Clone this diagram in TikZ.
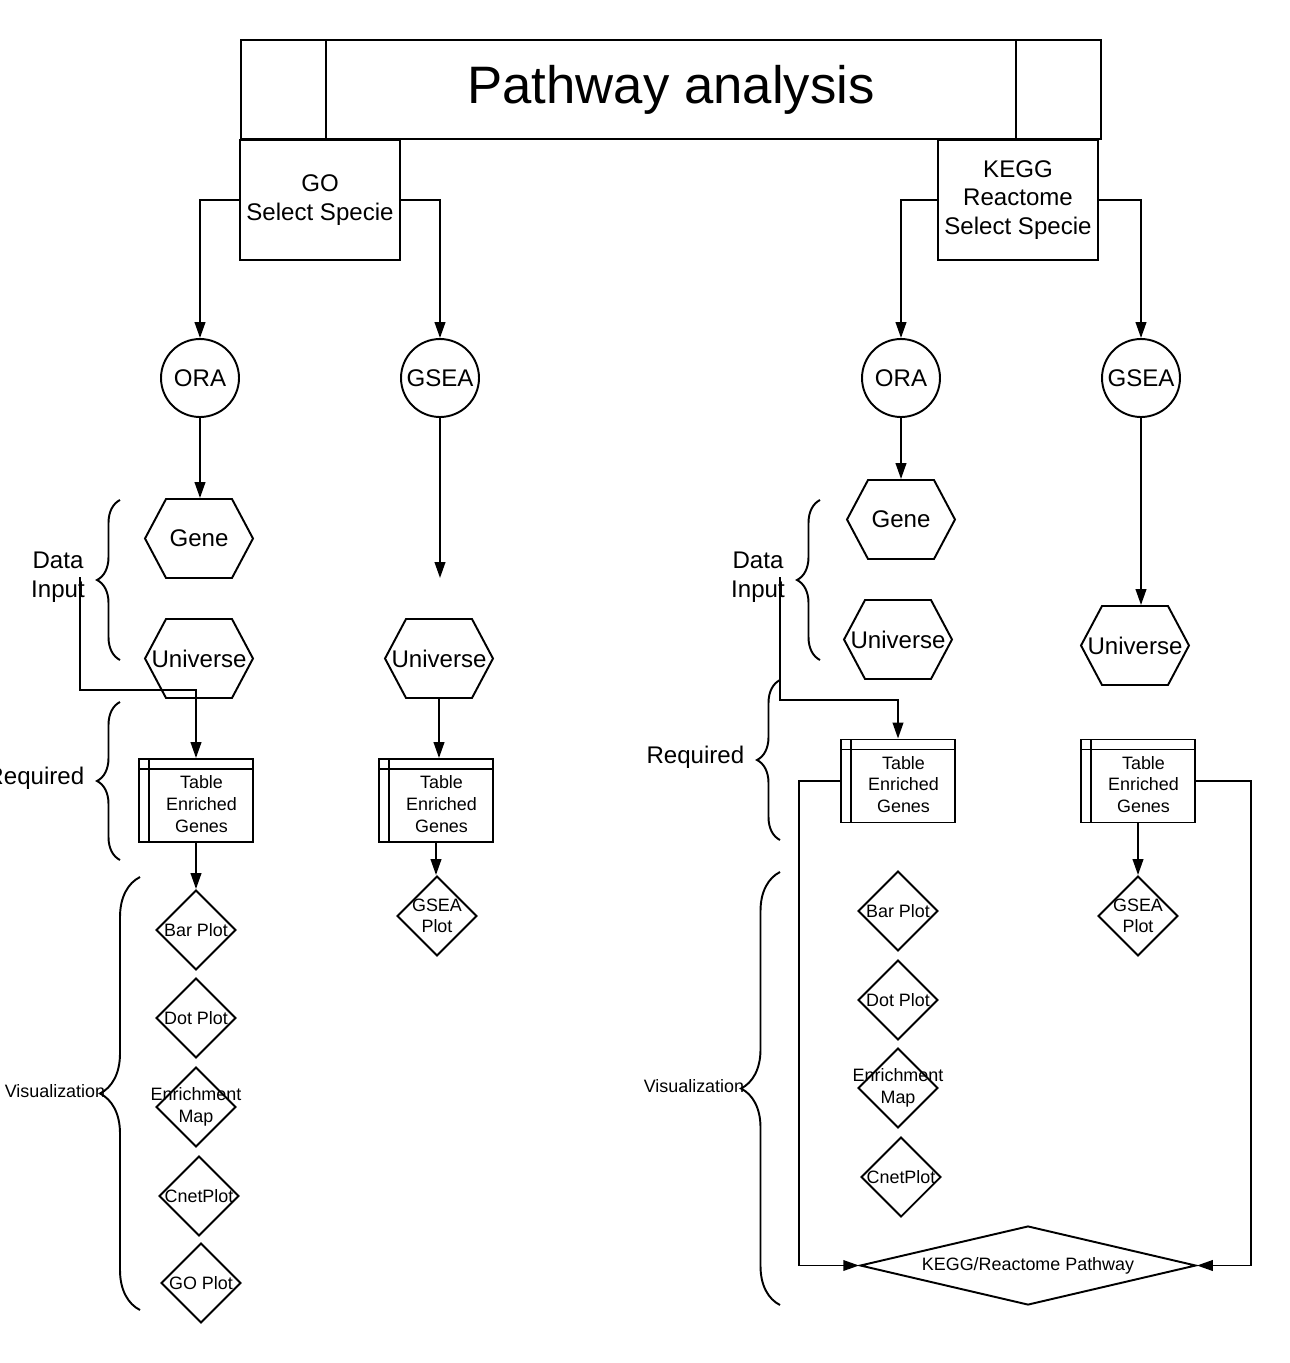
\documentclass[tikz,border=0pt]{standalone}
\usepackage{fontspec}
\setmainfont{Liberation Sans}
\usetikzlibrary{arrows.meta, positioning, shapes.geometric, shapes.symbols, decorations.pathreplacing}

\begin{document}
\begin{tikzpicture}[x=0.02cm, y=-0.02cm, line width=1.1pt,
  every node/.style={font=\fontsize{13.7}{16.4}\selectfont, align=center},
  small/.style={font=\fontsize{10.2}{12.3}\selectfont},
  box/.style={draw, rectangle, minimum width=3.2cm, minimum height=2.4cm, inner sep=0pt},
  method/.style={draw, circle, minimum size=1.56cm, inner sep=0pt},
  hexa/.style={draw, signal, signal to=west and east, signal pointer angle=124, minimum width=2.16cm, minimum height=1.58cm, inner sep=0pt},
  tablebox/.style={draw, rectangle, minimum width=2.28cm, minimum height=1.66cm, inner sep=0pt,
    path picture={
      \draw ([xshift=0.2cm]path picture bounding box.north west) -- ([xshift=0.2cm]path picture bounding box.south west);
      \draw ([yshift=-0.2cm]path picture bounding box.north west) -- ([yshift=-0.2cm]path picture bounding box.north east);}},
  plotnode/.style={draw, diamond, minimum width=1.6cm, minimum height=1.6cm, inner sep=0pt},
  arr/.style={-{Triangle[length=9pt, width=6pt]}},
  curly/.style={decorate, decoration={brace, amplitude=#1}},
]
\useasboundingbox (0,0) rectangle (1290,1363);

% Title
\node[draw, minimum width=17.2cm, minimum height=1.98cm, inner sep=0pt, font=\fontsize{30}{36}\selectfont] (title) at (671,89.5) {Pathway analysis};
\draw ([xshift=1.72cm]title.north west) -- ([xshift=1.72cm]title.south west);
\draw ([xshift=-1.72cm]title.north east) -- ([xshift=-1.72cm]title.south east);

\node[box] (go) at (320,200) {GO\\Select Specie};
\node[box] (kegg) at (1018,200) {KEGG\\Reactome\\Select Specie};

% GO branch
\node[method] (ora1) at (200,378) {ORA};
\node[method] (gsea1) at (440,378) {GSEA};
\node[hexa, label={center:Gene}] (gene1) at (199,538.5) {};
\node[hexa, label={center:Universe}] (uni1) at (199,658.5) {};
\node[hexa, label={center:Universe}] (uni2) at (439,658.5) {};
\node[tablebox, label={[small, xshift=0.11cm, yshift=-0.07cm]center:Table\\Enriched\\Genes}] (tab1) at (196,800.5) {};
\node[tablebox, label={[small, xshift=0.11cm, yshift=-0.07cm]center:Table\\Enriched\\Genes}] (tab2) at (436,800.5) {};

\node[plotnode, label={[small]center:Bar Plot}] (bar1) at (196,930) {};
\node[plotnode, label={[small]center:Dot Plot}] (dot1) at (196,1018) {};
\node[plotnode, label={[small]center:Enrichment\\Map}] (emap1) at (196,1107) {};
\node[plotnode, label={[small]center:CnetPlot}] (cnet1) at (199,1196) {};
\node[plotnode, label={[small]center:GO Plot}] (goplot) at (201,1283) {};
\node[plotnode, label={[small]center:GSEA\\Plot}] (gplot1) at (437,916) {};

\node (din1) at (58,577) {Data\\Input};
\node[anchor=east] (req1) at (91,778) {Required};
\node[small, anchor=west] (vis1) at (-2,1091) {Visualization};
\draw[curly=0.46cm] (120,660) -- (120,500);
\draw[curly=0.46cm] (120,860) -- (120,702);
\draw[curly=0.8cm] (140,1310) -- (140,877);

\coordinate (dstart1) at (80,577);
\coordinate (gseaend1) at (440,578);
\draw[arr] (go.west) -| (ora1.north);
\draw[arr] (go.east) -| (gsea1.north);
\draw[arr] (ora1.south) -- (ora1.south |- gene1.north);
\draw[arr] (gsea1.south) -- (gseaend1);
\draw[arr] (uni2.south) -- (uni2.south |- tab2.north);
\draw[arr] (dstart1) -- ++(0,113) -| (tab1.north);
\draw[arr] (tab1.south) -- (bar1.north);
\draw[arr] (tab2.south) -- (tab2.south |- gplot1.north);

% KEGG / Reactome branch
\node[method] (ora2) at (901,378) {ORA};
\node[method] (gsea2) at (1141,378) {GSEA};
\node[hexa, label={center:Gene}] (gene2) at (901,519.5) {};
\node[hexa, label={center:Universe}] (uni3) at (898,639.5) {};
\node[hexa, label={center:Universe}] (uni4) at (1135,645.5) {};
\node[tablebox, label={[small, xshift=0.11cm, yshift=-0.07cm]center:Table\\Enriched\\Genes}] (tab3) at (898,781) {};
\node[tablebox, label={[small, xshift=0.11cm, yshift=-0.07cm]center:Table\\Enriched\\Genes}] (tab4) at (1138,781) {};

\node[plotnode, label={[small]center:Bar Plot}] (bar2) at (898,911) {};
\node[plotnode, label={[small]center:Dot Plot}] (dot2) at (898,1000) {};
\node[plotnode, label={[small]center:Enrichment\\Map}] (emap2) at (898,1088) {};
\node[plotnode, label={[small]center:CnetPlot}] (cnet2) at (901,1177) {};
\node[plotnode, label={[small]center:GSEA\\Plot}] (gplot2) at (1138,916) {};
\node[draw, diamond, minimum width=6.72cm, minimum height=1.58cm, inner sep=0pt, label={[small]center:KEGG/Reactome Pathway}] (pathway) at (1028,1265.5) {};

\node (din2) at (758,577) {Data\\Input};
\node[anchor=east] (req2) at (751,757) {Required};
\node[small, anchor=west] (vis2) at (637,1086) {Visualization};
\draw[curly=0.46cm] (820,660) -- (820,500);
\draw[curly=0.46cm] (780,840) -- (780,680);
\draw[curly=0.78cm] (780,1305) -- (780,872);

\coordinate (dstart2) at (780,577);
\draw[arr] (kegg.west) -| (ora2.north);
\draw[arr] (kegg.east) -| (gsea2.north);
\draw[arr] (ora2.south) -- (gene2.north);
\draw[arr] (gsea2.south) -- (gsea2.south |- uni4.north);
\draw[arr] (dstart2) -- ++(0,123) -| (tab3.north);
\draw[arr] (tab3.west) -- ++(-41,0) |- (pathway.west);
\draw[arr] (tab4.east) -- ++(55,0) |- (pathway.east);
\draw[arr] (tab4.south) -- (gplot2.north);

\end{tikzpicture}
\end{document}
